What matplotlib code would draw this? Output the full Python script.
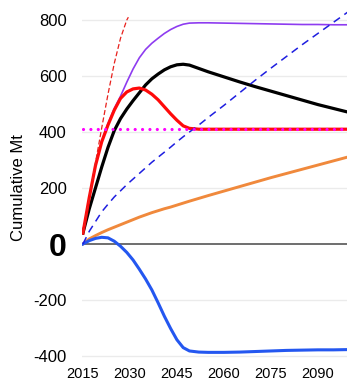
import matplotlib
matplotlib.use("Agg")
import matplotlib.pyplot as plt

plt.rcParams['font.family'] = ['Liberation Sans', 'DejaVu Sans']

# Years shared by most of the series
years = [2015, 2017, 2019, 2021, 2023, 2025, 2027, 2029, 2031, 2033, 2035, 2037,
         2039, 2041, 2043, 2045, 2047, 2049, 2052, 2055, 2060, 2065, 2070, 2075,
         2080, 2085, 2090, 2095, 2100]

black = [39, 125, 200, 275, 345, 405, 448, 482, 512, 540, 568, 590,
         607, 622, 633, 640, 642, 639, 627, 615, 597, 579, 562, 546,
         530, 514, 498, 484, 470]

red = [39, 165, 280, 365, 425, 478, 520, 543, 554, 557, 550, 535,
       515, 490, 465, 442, 422, 413, 410, 410, 410, 410, 410, 410,
       410, 410, 410, 410, 410]

purple = [39, 165, 282, 368, 430, 484, 528, 578, 625, 665, 695, 717,
          735, 752, 766, 777, 785, 789, 790, 790, 789, 788, 787, 786,
          785, 784, 784, 783, 783]

blue_dashed = [0, 45, 80, 115, 142, 168, 190, 212, 232, 252, 272, 292,
               310, 328, 346, 365, 383, 400, 425, 452, 495, 540, 585, 628,
               670, 712, 752, 792, 832]

orange = [0, 18, 30, 41, 51, 60, 69, 78, 87, 96, 104, 112,
          119, 126, 132, 139, 146, 153, 163, 173, 189, 205, 221, 237,
          252, 267, 282, 297, 312]

blue = [0, 12, 20, 24, 22, 10, -8, -30, -57, -90, -125, -164,
        -210, -258, -302, -342, -370, -382, -386, -387, -387, -386, -384, -382,
        -380, -379, -378, -378, -377]

# Thin red dashed line only runs to ~2030
red_dashed_years = [2015, 2017, 2019, 2021, 2023, 2025, 2027, 2029, 2029.5]
red_dashed = [39, 165, 290, 415, 535, 645, 735, 800, 810]

target_level = 410

ytick_vals = [-400, -200, 0, 200, 400, 600, 800]
ytick_labels = ['-400', '-200', '0', '200', '400', '600', '800']
xtick_vals = [2015, 2030, 2045, 2060, 2075, 2090]

fig = plt.figure(figsize=(3.47, 3.85), dpi=100)
ax = fig.add_axes([0.2363, 0.0644, 0.7637, 0.9127])

for g in [-400, -200, 200, 400, 600, 800]:
    ax.axhline(g, color='#ebebeb', lw=1.0, zorder=0)
ax.axhline(0, color='#6e6e6e', lw=1.4, zorder=1)

ax.plot(years, orange, color='#f0893c', lw=2.1, zorder=3)
ax.plot(years, blue, color='#2457f0', lw=2.2, zorder=3)
ax.plot(years, purple, color='#8e3cf0', lw=1.2, zorder=4)
ax.plot(years, black, color='black', lw=2.3, zorder=5)
ax.plot(years, red, color='#ff0a0a', lw=2.3, zorder=6)
ax.plot(red_dashed_years, red_dashed, color='#e8201c', lw=0.9,
        linestyle=(0, (4, 2)), zorder=7)
ax.plot(years, blue_dashed, color='#1e1ee0', lw=1.1,
        linestyle=(0, (5, 3.5)), zorder=7)
ax.plot([years[0], years[-1]], [target_level, target_level], color='#ff00ff',
        lw=2.3, linestyle=(0, (0.01, 2.3)), dash_capstyle='round', zorder=8)

ax.set_xlim(2014.7, 2099.3)
ax.set_ylim(-415, 840)

ax.set_yticks(ytick_vals)
ax.set_yticklabels(ytick_labels, fontsize=12)
for lab in ax.get_yticklabels():
    if lab.get_text() == '0':
        lab.set_fontsize(23)
        lab.set_fontweight('bold')
ax.set_xticks(xtick_vals)
ax.set_xticklabels([str(x) for x in xtick_vals], fontsize=10.5)
ax.tick_params(axis='y', length=0, pad=11)
ax.tick_params(axis='x', length=0, pad=5)

for s in ax.spines.values():
    s.set_visible(False)

fig.text(19 / 347, 1 - 188 / 385, 'Cumulative Mt', rotation=90,
         ha='center', va='center', fontsize=12)

fig.savefig('out.png', dpi=100)
